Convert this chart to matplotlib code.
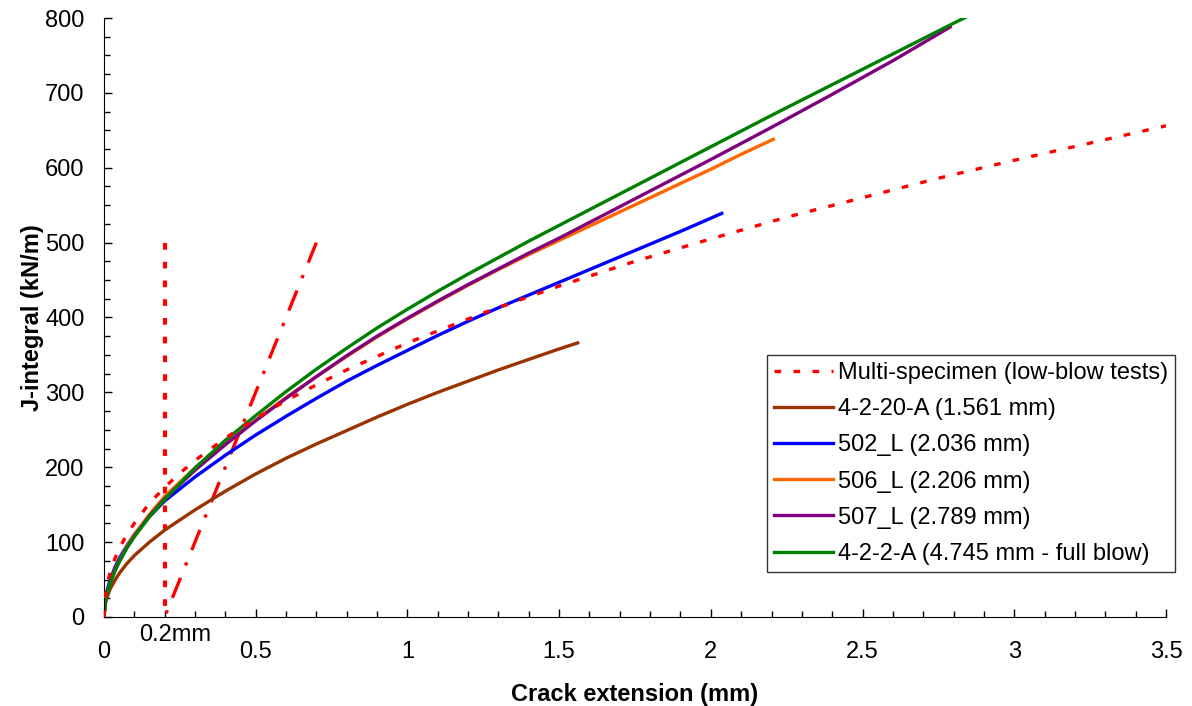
import matplotlib
matplotlib.use("Agg")
import matplotlib.pyplot as plt
from matplotlib.ticker import MultipleLocator

plt.rcParams['font.family'] = ['Liberation Sans', 'DejaVu Sans']

# multi-specimen fit (low-blow tests)
multi_x = [0, 0.005, 0.01, 0.02, 0.035, 0.05, 0.075, 0.1, 0.15, 0.2, 0.25, 0.3, 0.4, 0.5, 0.6, 0.7, 0.8, 0.9,
           1.0, 1.25, 1.5, 1.75, 2.0, 2.25, 2.5, 2.75, 3.0, 3.25, 3.5]
multi_j = [0, 31, 43, 59, 77, 91, 110, 125, 152, 173, 192, 209, 239, 265, 289, 310, 330, 348,
           366, 406, 442, 475, 505, 534, 560, 586, 610, 633, 656]

# single specimen curves
low_x = [0, 0.005, 0.01, 0.02, 0.035, 0.05, 0.075, 0.1, 0.15]

s4220_x = low_x + [0.2, 0.3, 0.4, 0.5, 0.6, 0.7, 0.8, 0.9, 1.0, 1.1, 1.2, 1.3, 1.4, 1.5, 1.561]
s4220_j = [0, 18, 26, 37, 48, 58, 71, 82, 100,
           116, 143, 168, 191, 212, 231, 249, 267, 284, 300, 315, 330, 344, 358, 366]

s502_x = low_x + [0.2, 0.3, 0.4, 0.5, 0.6, 0.7, 0.8, 0.9, 1.0, 1.1, 1.2, 1.3, 1.4, 1.5, 1.6, 1.7, 1.8, 1.9, 2.036]
s502_j = [0, 24, 35, 49, 65, 78, 95, 110, 134,
          155, 187, 216, 243, 268, 292, 315, 336, 356, 376, 395, 413, 430, 447, 464, 481, 498, 515, 539]

s506_x = low_x + [0.2, 0.3, 0.4, 0.5, 0.6, 0.7, 0.8, 0.9, 1.0, 1.1, 1.2, 1.3, 1.4, 1.5, 1.6, 1.7, 1.8, 1.9,
                  2.0, 2.1, 2.206]
s506_j = [0, 21, 31, 45, 62, 75, 94, 110, 137,
          161, 199, 232, 263, 293, 321, 348, 374, 398, 421, 443, 464, 484, 503, 522, 541, 560, 579,
          598, 618, 638]

s507_x = low_x + [0.2, 0.3, 0.4, 0.5, 0.6, 0.7, 0.8, 0.9, 1.0, 1.1, 1.2, 1.3, 1.4, 1.5, 1.6, 1.7, 1.8, 1.9,
                  2.0, 2.2, 2.4, 2.6, 2.789]
s507_j = [0, 21, 30, 45, 61, 74, 92, 108, 135,
          158, 196, 230, 262, 292, 321, 349, 375, 399, 422, 444, 465, 486, 506, 527, 548, 569, 590,
          611, 654, 698, 743, 788]

s422_x = low_x + [0.2, 0.3, 0.4, 0.5, 0.6, 0.7, 0.8, 0.9, 1.0, 1.1, 1.2, 1.3, 1.4, 1.5, 1.6, 1.7, 1.8, 1.9,
                  2.0, 2.2, 2.4, 2.6, 2.8, 2.85]
s422_j = [0, 21, 30, 44, 60, 73, 92, 107, 134,
          157, 199, 236, 269, 301, 331, 359, 386, 411, 435, 458, 480, 502, 523, 544, 565, 586, 607,
          628, 670, 711, 752, 793, 803]

# construction lines (drawn top-down so the pattern starts at J = 500)
offset_x = [0.2, 0.2]
offset_j = [500, 0]
blunt_x = [0.7, 0.2]
blunt_j = [500, 0]

fig = plt.figure(figsize=(11.92, 7.06), dpi=100)
ax = fig.add_axes([0.0872, 0.1261, 0.891, 0.8484])

ax.plot(offset_x, offset_j, color='#ff0000', lw=3, dashes=(1.6, 2.9), zorder=2)
ax.plot(blunt_x, blunt_j, color='#ff0000', lw=2.4, dashes=(6.5, 4, 1, 4), zorder=2)

lw = 2.4
ax.plot(multi_x, multi_j, color='#ff0000', lw=lw, dashes=(2, 3.7), label='Multi-specimen (low-blow tests)', zorder=3)
ax.plot(s4220_x, s4220_j, color='#993300', lw=lw, label='4-2-20-A (1.561 mm)')
ax.plot(s502_x, s502_j, color='#0000ff', lw=lw, label='502_L (2.036 mm)')
ax.plot(s506_x, s506_j, color='#ff6600', lw=lw, label='506_L (2.206 mm)')
ax.plot(s507_x, s507_j, color='#800080', lw=lw, label='507_L (2.789 mm)')
ax.plot(s422_x, s422_j, color='#008000', lw=lw, label='4-2-2-A (4.745 mm - full blow)')

ax.set_xlim(0, 3.5)
ax.set_ylim(0, 800)
ax.spines['top'].set_visible(False)
ax.spines['right'].set_visible(False)

ax.xaxis.set_minor_locator(MultipleLocator(0.1))
ax.yaxis.set_major_locator(MultipleLocator(100))
ax.yaxis.set_minor_locator(MultipleLocator(25))
ax.set_xticks([0, 0.5, 1, 1.5, 2, 2.5, 3, 3.5])
ax.set_xticklabels(['0', '0.5', '1', '1.5', '2', '2.5', '3', '3.5'])
ax.tick_params(axis='x', which='both', direction='in', pad=17.5, labelsize=17)
ax.tick_params(axis='y', which='both', direction='in', pad=14, labelsize=17)
ax.tick_params(which='major', length=6, width=1)
ax.tick_params(which='minor', length=4, width=1)

ax.text(0.234, -0.03, '0.2mm', transform=ax.get_xaxis_transform(), ha='center', va='center', fontsize=17)

ax.set_xlabel('Crack extension (mm)', fontsize=17, fontweight='bold', labelpad=14)
ax.set_ylabel('J-integral (kN/m)', fontsize=17, fontweight='bold', labelpad=1)

leg = ax.legend(loc='lower right', bbox_to_anchor=(1.0085, 0.0751), borderaxespad=0, fontsize=17,
                frameon=True, fancybox=False, edgecolor='black', handlelength=2.5, handletextpad=0.2,
                labelspacing=0.6, borderpad=0.3)
leg.get_frame().set_linewidth(1)

fig.savefig('out.png', dpi=100)
